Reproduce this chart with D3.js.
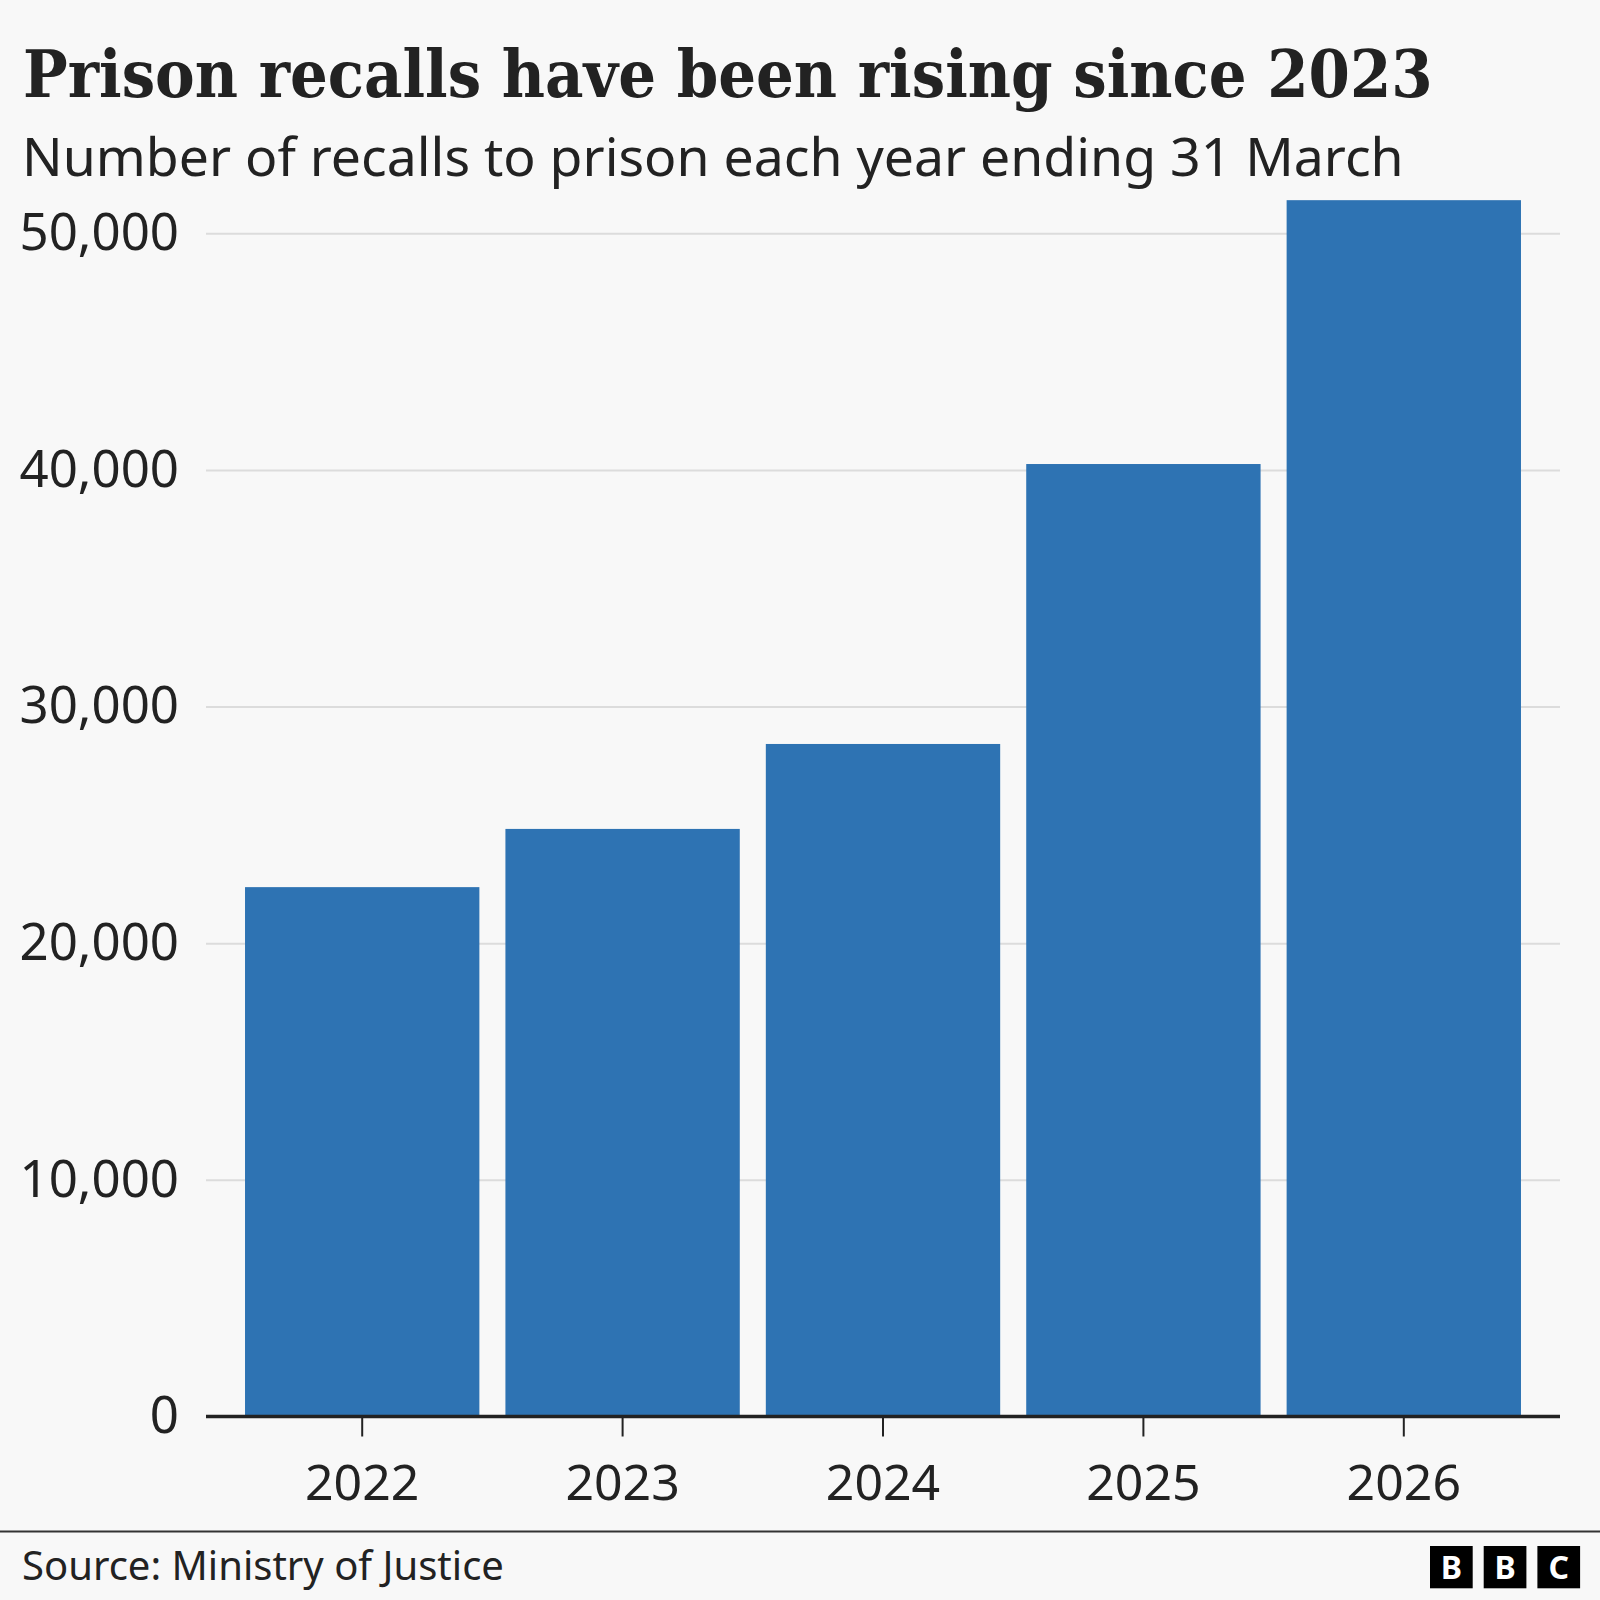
<!DOCTYPE html>
<html>
<head>
<meta charset="utf-8">
<script src="https://cdn.jsdelivr.net/npm/d3@7"></script>
<style>
  html, body { margin: 0; padding: 0; background: #f8f8f8; }
  svg { display: block; }
  text { fill: #222; }
</style>
</head>
<body>
<div id="chart"></div>
<script>
// year ending 31 March
var years = ['2022', '2023', '2024', '2025', '2026'],
    recalls = [22370, 24830, 28420, 40250, 51400],
    yTicks = [0, 10000, 20000, 30000, 40000, 50000];

var title = 'Prison recalls have been rising since 2023',
    subtitle = 'Number of recalls to prison each year ending 31 March',
    source = 'Source: Ministry of Justice';

var width = 1600, height = 1600,
    sans = '"Noto Sans", "Open Sans", sans-serif',
    serif = '"DejaVu Serif", "Liberation Serif", serif';

var svg = d3.select('#chart').append('svg')
    .attr('width', width)
    .attr('height', height);

svg.append('rect')
    .attr('width', width)
    .attr('height', height)
    .attr('fill', '#f8f8f8');

// squeeze or grow a text to a given width
var fit = function(sel, target) {
    var size = parseFloat(sel.style('font-size')),
        w = sel.node().getComputedTextLength();
    sel.style('font-size', (size*target/w)+'px');
};

var t = svg.append('text')
    .attr('x', 23)
    .attr('y', 97)
    .style('font-family', serif)
    .style('font-weight', 'bold')
    .style('font-stretch', 'condensed')
    .style('font-size', '66px')
    .text(title);
fit(t, 1410);

var st = svg.append('text')
    .attr('x', 22)
    .attr('y', 176)
    .style('font-family', sans)
    .style('font-size', '55px')
    .text(subtitle);
fit(st, 1382);

var left = 206, right = 1560;

var x = d3.scaleBand()
    .domain(years)
    .range([232, 1534])
    .paddingInner(0.1)
    .paddingOuter(0.05);

var y = d3.scaleLinear()
    .domain([0, 50000])
    .range([1416.5, 233.3]);

var yAxis = svg.append('g')
    .attr('transform', 'translate('+left+',0)')
    .call(d3.axisLeft(y)
        .tickValues(yTicks)
        .tickSize(-(right-left))
        .tickPadding(27)
        .tickFormat(d3.format(',')));

yAxis.select('.domain').remove();
yAxis.selectAll('.tick line')
    .attr('stroke', '#dcdcdc')
    .attr('stroke-width', 2);
yAxis.selectAll('.tick text')
    .style('font-family', sans)
    .style('font-size', '51px')
    .attr('fill', '#222');

svg.append('g')
    .selectAll('rect')
    .data(recalls)
    .enter()
    .append('rect')
    .attr('x', function(d, i) { return x(years[i]); })
    .attr('y', function(d) { return y(d); })
    .attr('width', x.bandwidth())
    .attr('height', function(d) { return y(0)-y(d); })
    .attr('fill', '#2e73b3');

var xAxis = svg.append('g')
    .attr('transform', 'translate(0,'+y(0)+')')
    .call(d3.axisBottom(x)
        .tickSize(20)
        .tickPadding(28));

xAxis.select('.domain').remove();
xAxis.selectAll('.tick line')
    .attr('stroke', '#222')
    .attr('stroke-width', 2);
xAxis.selectAll('.tick text')
    .style('font-family', sans)
    .style('font-size', '50px')
    .attr('fill', '#222');

svg.append('line')
    .attr('x1', left)
    .attr('x2', right)
    .attr('y1', y(0))
    .attr('y2', y(0))
    .attr('stroke', '#222')
    .attr('stroke-width', 3.5);

// footer
svg.append('line')
    .attr('x1', 0)
    .attr('x2', width)
    .attr('y1', 1531.5)
    .attr('y2', 1531.5)
    .attr('stroke', '#333')
    .attr('stroke-width', 2);

var src = svg.append('text')
    .attr('x', 22)
    .attr('y', 1580)
    .style('font-family', sans)
    .style('font-size', '39px')
    .text(source);
fit(src, 482);

var logo = svg.append('g')
    .selectAll('g')
    .data(['B', 'B', 'C'])
    .enter()
    .append('g')
    .attr('transform', function(d, i) { return 'translate('+(1430+i*53.7)+',1546)'; });

logo.append('rect')
    .attr('width', 42.7)
    .attr('height', 42.3)
    .attr('fill', '#000');

logo.append('text')
    .attr('x', 21.4)
    .attr('y', 33)
    .attr('text-anchor', 'middle')
    .style('font-family', sans)
    .style('font-weight', 'bold')
    .style('font-size', '32px')
    .style('fill', '#fff')
    .text(function(d) { return d; });
</script>
</body>
</html>
